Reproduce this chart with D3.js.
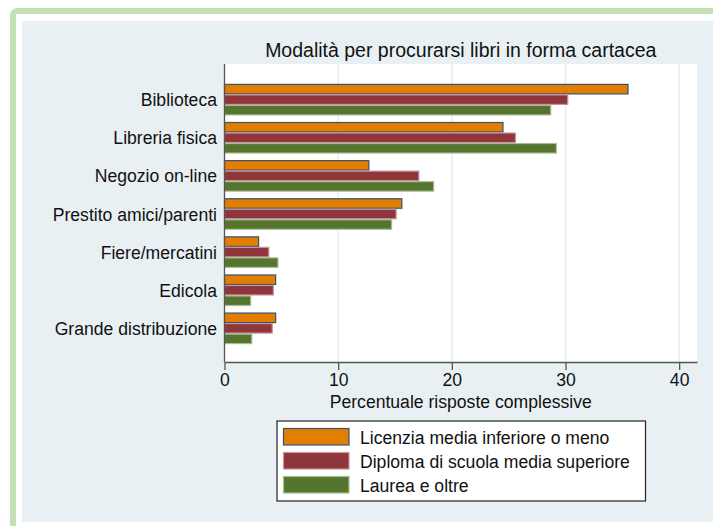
<!DOCTYPE html>
<html><head><meta charset="utf-8">
<script src="https://cdn.jsdelivr.net/npm/d3@7"></script>
<style>html,body{margin:0;padding:0;background:#fff;}svg{display:block;}text{font-family:"Liberation Sans",Arial,sans-serif;}</style>
</head><body>
<script>
const categories = ["Biblioteca","Libreria fisica","Negozio on-line","Prestito amici/parenti","Fiere/mercatini","Edicola","Grande distribuzione"];
const seriesNames = ["Licenzia media inferiore o meno","Diploma di scuola media superiore","Laurea e oltre"];
const licenzia = [35.5, 24.5, 12.7, 15.6, 3.0, 4.5, 4.5];
const diploma  = [30.2, 25.6, 17.1, 15.1, 3.9, 4.3, 4.2];
const laurea   = [28.7, 29.2, 18.4, 14.7, 4.7, 2.3, 2.4];
const xTicks = [0, 10, 20, 30, 40];
const title = "Modalità per procurarsi libri in forma cartacea";
const xTitle = "Percentuale risposte complessive";

const fills = ["#e37e00", "#90353b", "#55752f"];
const strokes = ["#2f557a", "#c7959a", "#a7bd95"];
const seriesValues = [licenzia, diploma, laurea];

const W = 713, H = 526;
const FS = 17.6;
const svg = d3.select("body").append("svg").attr("width", W).attr("height", H);

// frame
svg.append("rect").attr("x", 13).attr("y", 11).attr("width", W + 20).attr("height", H + 20)
  .attr("rx", 4).attr("fill", "#fff").attr("stroke", "#c6e0b5").attr("stroke-width", 6);
svg.append("rect").attr("x", 22).attr("y", 21).attr("width", W - 22).attr("height", 501).attr("fill", "#e8f0f3");

const plotL = 224.5, plotR = 697, plotT = 64, plotB = 362;
svg.append("rect").attr("x", plotL).attr("y", plotT).attr("width", plotR - plotL).attr("height", plotB - plotT).attr("fill", "#fff");

const x = d3.scaleLinear().domain([0, 41.57]).range([plotL, plotR]);
const y = d3.scaleBand().domain(categories).range([80.6, 347.4]).paddingInner(0.173).paddingOuter(0.0865);
const ys = d3.scaleBand().domain(d3.range(3)).range([0, y.bandwidth()]);

// gridlines
svg.append("g").selectAll("line").data(xTicks.filter(d => d > 0)).join("line")
  .attr("x1", d => x(d)).attr("x2", d => x(d)).attr("y1", plotT).attr("y2", plotB)
  .attr("stroke", "#e6edf1").attr("stroke-width", 1.5);

// bars
const g = svg.append("g");
seriesValues.forEach((vals, s) => {
  g.append("g").selectAll("rect").data(categories).join("rect")
    .attr("x", x(0))
    .attr("y", (c) => y(c) + ys(s) + 0.5)
    .attr("width", (c, i) => x(vals[i]) - x(0))
    .attr("height", ys.bandwidth() - 1)
    .attr("fill", fills[s]).attr("stroke", strokes[s]).attr("stroke-width", 1.2);
});

// y axis
svg.append("line").attr("x1", plotL).attr("x2", plotL).attr("y1", plotT).attr("y2", plotB).attr("stroke", "#555").attr("stroke-width", 1.3);
svg.append("g").selectAll("text").data(categories).join("text")
  .attr("x", 217).attr("y", c => y(c) + y.bandwidth() / 2 + 6.5)
  .attr("text-anchor", "end").attr("font-size", FS).attr("fill", "#111").text(c => c);

// x axis
const xAxis = d3.axisBottom(x).tickValues(xTicks).tickSize(8).tickSizeOuter(0).tickPadding(4);
const ax = svg.append("g").attr("transform", `translate(0,${plotB})`).call(xAxis);
ax.select(".domain").attr("stroke", "#555").attr("stroke-width", 1.3);
ax.selectAll(".tick line").attr("stroke", "#555").attr("stroke-width", 1.3);
ax.selectAll(".tick text").attr("font-size", FS).attr("fill", "#111").attr("font-family", "Liberation Sans, Arial, sans-serif");

svg.append("text").attr("x", (plotL + plotR) / 2).attr("y", 408).attr("text-anchor", "middle")
  .attr("font-size", FS).attr("fill", "#111").text(xTitle);
svg.append("text").attr("x", (plotL + plotR) / 2).attr("y", 57).attr("text-anchor", "middle")
  .attr("font-size", 19.5).attr("fill", "#111").text(title);

// legend
const lg = svg.append("g");
lg.append("rect").attr("x", 277).attr("y", 421).attr("width", 368.5).attr("height", 80)
  .attr("fill", "#fff").attr("stroke", "#222").attr("stroke-width", 1.2);
seriesNames.forEach((name, i) => {
  lg.append("rect").attr("x", 283.5).attr("y", 428.5 + i * 24).attr("width", 65.5).attr("height", 16.5)
    .attr("fill", fills[i]).attr("stroke", strokes[i]).attr("stroke-width", 1.2);
  lg.append("text").attr("x", 360).attr("y", 443.5 + i * 24).attr("font-size", FS).attr("fill", "#111").text(name);
});
</script>
</body></html>
